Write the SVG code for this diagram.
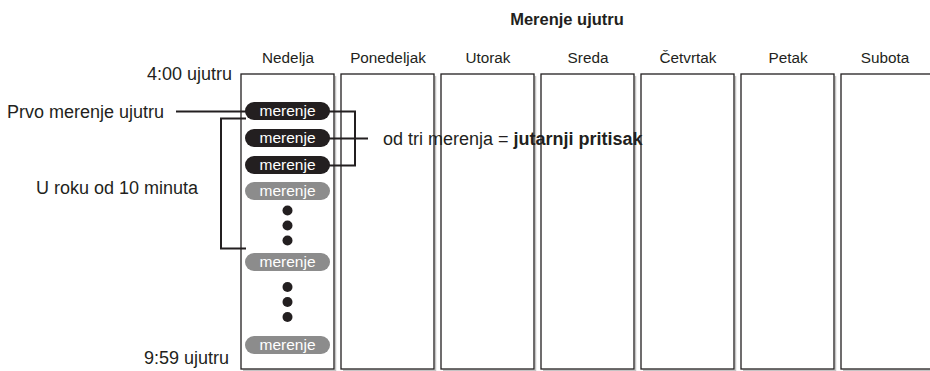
<svg xmlns="http://www.w3.org/2000/svg" width="930" height="371" viewBox="0 0 930 371">
<style>
text{font-family:"Liberation Sans",Arial,sans-serif;fill:#231f20}
.lbl{font-size:18px}
.ttl{font-size:16.5px;font-weight:bold;text-anchor:middle}
.day{font-size:15.3px;text-anchor:middle}
.pt{font-size:15.5px;fill:#fff;text-anchor:middle}
.col{fill:#fff;stroke:#231f20;stroke-width:1.3}
.sh{fill:none;stroke:#c4c4c4;stroke-width:1.5}
.pb{fill:#231f20}
.pg{fill:#8c8c8c}
.cn{fill:none;stroke:#231f20;stroke-width:2}
.dot{fill:#231f20}
</style>
<text x="567" y="25" class="ttl">Merenje ujutru</text>
<g id="columns">
<g id="col-nedelja"><path class="sh" d="M335.5 76 V370.2 H243"/><rect class="col" x="241" y="74" width="93" height="295"/><text class="day" x="288" y="63">Nedelja</text></g>
<g id="col-ponedeljak"><path class="sh" d="M435.5 76 V370.2 H343"/><rect class="col" x="341" y="74" width="93" height="295"/><text class="day" x="388" y="63">Ponedeljak</text></g>
<g id="col-utorak"><path class="sh" d="M535.5 76 V370.2 H443"/><rect class="col" x="441" y="74" width="93" height="295"/><text class="day" x="488" y="63">Utorak</text></g>
<g id="col-sreda"><path class="sh" d="M635.5 76 V370.2 H543"/><rect class="col" x="541" y="74" width="93" height="295"/><text class="day" x="588" y="63">Sreda</text></g>
<g id="col-cetvrtak"><path class="sh" d="M735.5 76 V370.2 H643"/><rect class="col" x="641" y="74" width="93" height="295"/><text class="day" x="688" y="63">Četvrtak</text></g>
<g id="col-petak"><path class="sh" d="M835.5 76 V370.2 H743"/><rect class="col" x="741" y="74" width="93" height="295"/><text class="day" x="788" y="63">Petak</text></g>
<g id="col-subota"><path class="sh" d="M935.5 76 V370.2 H843"/><rect class="col" x="841" y="74" width="93" height="295"/><text class="day" x="885" y="63">Subota</text></g>
</g>
<text class="lbl" x="232" y="80" text-anchor="end">4:00 ujutru</text>
<text class="lbl" x="229" y="364" text-anchor="end">9:59 ujutru</text>
<text class="lbl" x="7" y="117.5">Prvo merenje ujutru</text>
<text class="lbl" x="36" y="193.5">U roku od 10 minuta</text>
<text class="lbl" x="383" y="144.5">od tri merenja = <tspan style="font-weight:bold">jutarnji pritisak</tspan></text>
<g id="connectors">
<path class="cn" d="M176 111.5 H246"/>
<path class="cn" d="M246 118.5 H221 V248.5 H246"/>
<path class="cn" d="M329 111.5 H355 V165.5 H329 M329 138.5 H368"/>
</g>
<g id="measurements">
<g id="m1"><rect class="pb" x="245" y="102" width="85" height="18" rx="9"/><text class="pt" x="287.5" y="116">merenje</text></g>
<g id="m2"><rect class="pb" x="245" y="129" width="85" height="18" rx="9"/><text class="pt" x="287.5" y="143">merenje</text></g>
<g id="m3"><rect class="pb" x="245" y="156" width="85" height="18" rx="9"/><text class="pt" x="287.5" y="170">merenje</text></g>
<g id="m4"><rect class="pg" x="245" y="182" width="85" height="18" rx="9"/><text class="pt" x="287.5" y="196">merenje</text></g>
<g id="dots1"><circle class="dot" cx="287.5" cy="210.5" r="5"/><circle class="dot" cx="287.5" cy="225.5" r="5"/><circle class="dot" cx="287.5" cy="240.5" r="5"/></g>
<g id="m5"><rect class="pg" x="245" y="253" width="85" height="18" rx="9"/><text class="pt" x="287.5" y="267">merenje</text></g>
<g id="dots2"><circle class="dot" cx="287.5" cy="287" r="5"/><circle class="dot" cx="287.5" cy="302" r="5"/><circle class="dot" cx="287.5" cy="317" r="5"/></g>
<g id="m6"><rect class="pg" x="245" y="336" width="85" height="18" rx="9"/><text class="pt" x="287.5" y="350">merenje</text></g>
</g>
</svg>
